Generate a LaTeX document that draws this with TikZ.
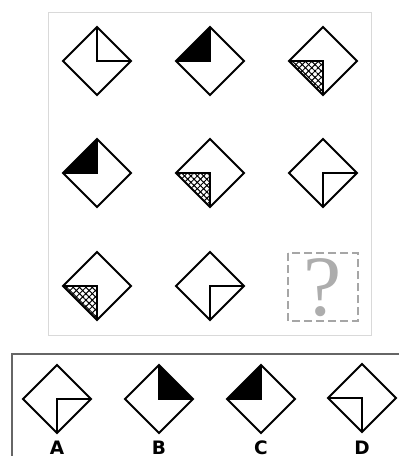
\documentclass[tikz,border=0pt]{standalone}
\usepackage{fontspec}
\newfontfamily\labfont{DejaVu Sans}
\newfontfamily\qfont{Liberation Serif}
\usetikzlibrary{patterns.meta}
\tikzset{
  dia/.style={line width=1.9pt, line join=miter, draw=black},
  hat/.style={pattern={Lines[angle=45,distance=4.5pt,line width=1pt]}},
  hatb/.style={pattern={Lines[angle=-45,distance=4.5pt,line width=1pt]}},
  panel/.style={draw=black!15, line width=0.9pt},
  optpanel/.style={draw=black!60, line width=1.8pt},
  qbox/.style={draw=black!35, line width=1.4pt, dash pattern=on 8pt off 4pt},
  lab/.style={font={\labfont\bfseries\fontsize{18.5pt}{18.5pt}\selectfont}, inner sep=0pt, anchor=base},
  qmark/.style={text=black!32, font={\qfont\fontsize{86pt}{86pt}\selectfont}, inner sep=0pt, anchor=base},
}
% #1 name, #2 position, #3 first vertex, #4 second vertex, #5 fill kind (0 white,1 black,2 hatch)
\newcommand\qdia[5]{%
  \coordinate (#1) at #2;
  \begin{scope}[shift={(#1)}]
    \ifcase#5
      \fill[white] #3 -- (0,0) -- #4 -- cycle;
    \or
      \fill[black] #3 -- (0,0) -- #4 -- cycle;
    \or
      \fill[hat] #3 -- (0,0) -- #4 -- cycle;
      \fill[hatb] #3 -- (0,0) -- #4 -- cycle;
    \fi
    \draw[dia] (0,-34) -- (34,0) -- (0,34) -- (-34,0) -- cycle;
    \draw[dia] #3 -- (0,0) -- #4;
  \end{scope}}
\begin{document}
\begin{tikzpicture}[x=1pt,y=-1pt]
  \useasboundingbox (0,0) rectangle (399,456);
  \fill[white] (0,0) rectangle (399,456);
  % top panel
  \draw[panel] (48,12) rectangle (371,335);
  % row 1
  \qdia{d11}{(97,61)}{(0,-34)}{(34,0)}{0}
  \qdia{d12}{(210,61)}{(-34,0)}{(0,-34)}{1}
  \qdia{d13}{(323,61)}{(-34,0)}{(0,34)}{2}
  % row 2
  \qdia{d21}{(97,173)}{(-34,0)}{(0,-34)}{1}
  \qdia{d22}{(210,173)}{(-34,0)}{(0,34)}{2}
  \qdia{d23}{(323,173)}{(34,0)}{(0,34)}{0}
  % row 3
  \qdia{d31}{(97,286)}{(-34,0)}{(0,34)}{2}
  \qdia{d32}{(210,286)}{(34,0)}{(0,34)}{0}
  \draw[qbox] (288,253) rectangle (358,321);
  \node[qmark] (q) at (323,315) {?};
  % options panel
  \draw[optpanel] (12,460) -- (12,354) -- (402,354);
  \qdia{oa}{(57,399)}{(34,0)}{(0,34)}{0}
  \qdia{ob}{(159,399)}{(0,-34)}{(34,0)}{1}
  \qdia{oc}{(261,399)}{(-34,0)}{(0,-34)}{1}
  \qdia{od}{(362,398)}{(-34,0)}{(0,34)}{0}
  \node[lab] (la) at (57,454.5) {A};
  \node[lab] (lb) at (159,454.5) {B};
  \node[lab] (lc) at (261,454.5) {C};
  \node[lab] (ld) at (362,454.5) {D};
\end{tikzpicture}
\end{document}
